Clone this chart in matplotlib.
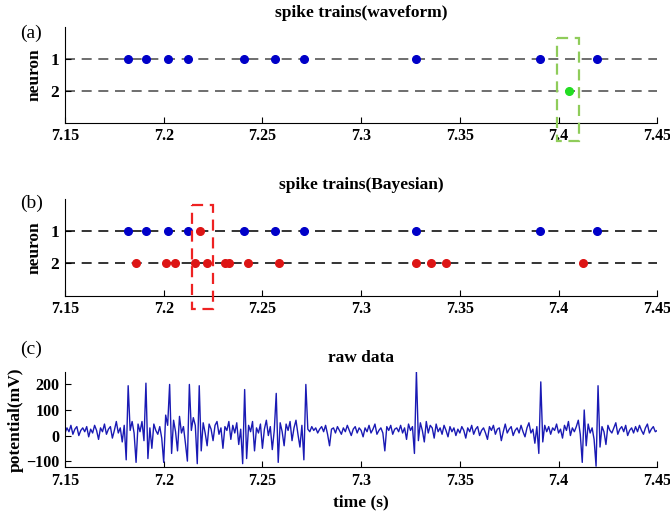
import numpy as np
import matplotlib
matplotlib.use('Agg')
import matplotlib.pyplot as plt
from matplotlib.patches import Rectangle
from matplotlib.ticker import FormatStrFormatter

plt.rcParams['font.family'] = ['Liberation Serif', 'DejaVu Serif']
plt.rcParams['font.weight'] = 'bold'

# spike times (s)
neuron1_times = [7.182, 7.191, 7.202, 7.2125, 7.2405, 7.2566, 7.2713, 7.328, 7.3906, 7.4196]
wave_n2_times = [7.4054]
bayes_n1_red = [7.2184]
bayes_n2_red = [7.1859, 7.2010, 7.2056, 7.2160, 7.2218, 7.2309, 7.2333, 7.2426, 7.2582,
                7.3278, 7.3356, 7.3432, 7.4124]

# highlighted windows
box_a = (7.3994, 7.4106)
box_b = (7.2143, 7.2252)

# raw trace, 1 ms samples from 7.150 s
t_start = 7.150
dt = 0.001
raw_mv = [
    10, 30, 15, 40, 5, 25, 35, 0, 20, 30,
    15, 35, -5, 25, 10, 40, 20, -15, 30, 15,
    45, 5, 25, 35, -10, 20, 55, 10, 30, -25,
    40, -95, 195, 20, 55, 10, -105, 45, 15, 55,
    -20, 205, -90, 30, -50, 45, 20, 5, 35, -10,
    -105, 80, 40, 200, -70, 60, 15, -60, 75, 10,
    35, -30, -100, 200, 20, 70, 40, -110, 195, -60,
    50, 10, -40, 45, 25, -20, 40, 55, 5, 30,
    -50, 35, 20, 55, -15, 40, 10, 50, -35, 25,
    -110, 180, -90, 40, 15, 55, -60, 30, 10, 45,
    -50, 25, 60, 0, 35, -55, 20, 165, -105, 50,
    15, -40, 45, 20, 55, -20, 30, 60, 5, -45,
    40, -95, 200, 25, 15, 35, 20, 30, 10, 25,
    35, 15, 40, 5, -40, 25, 30, 10, 35, 20,
    5, 30, 15, 40, 20, 0, 25, 35, 10, 30,
    20, -5, 30, 15, 40, 10, 25, 45, 5, 20,
    30, 10, -60, 35, 20, 40, 5, 25, 30, 15,
    40, 10, 30, -15, 45, 20, 35, -70, 250, -20,
    50, 20, -25, 55, 10, 40, 30, -10, 45, 15,
    30, 5, 40, 20, -5, 35, 15, 30, 0, 25,
    10, 35, 20, -10, 30, 15, 40, 5, 25, 35,
    0, 20, 30, 10, -15, 35, 20, 40, 5, 25,
    30, -20, 15, 45, 10, 25, 35, 0, 20, 30,
    10, 40, 15, -5, 30, 50, 10, 25, -30, 35,
    -70, 210, -25, 40, 15, 35, 5, 30, 20, 45,
    10, 25, -10, 40, 20, 55, 0, 30, 15, 35,
    60, 5, -105, 100, -40, 45, 10, 30, -15, -120,
    195, -45, 35, 15, -35, 40, 20, 10, 30, 50,
    5, 25, 35, 15, 40, 0, 20, 30, 10, 35,
    15, 40, 20, 5, 30, 45, 10, 25, 35, 15,
    20,
]
raw_t = t_start + dt * np.arange(len(raw_mv))

xticks = [7.15, 7.2, 7.25, 7.3, 7.35, 7.4, 7.45]
blue = '#0000c8'
red = '#dd1515'
green = '#22dd22'

fig = plt.figure(figsize=(6.7, 5.18), dpi=100)
ax_a = fig.add_axes([0.097, 0.763, 0.884, 0.185])
ax_b = fig.add_axes([0.097, 0.429, 0.884, 0.187])
ax_c = fig.add_axes([0.097, 0.0985, 0.884, 0.184])


def style(ax):
    ax.spines['top'].set_visible(False)
    ax.spines['right'].set_visible(False)
    ax.tick_params(direction='in', length=4, labelsize=11.5, pad=4)
    ax.set_xlim(7.15, 7.45)
    ax.set_xticks(xticks)
    ax.xaxis.set_major_formatter(FormatStrFormatter('%g'))
    for lab in ax.get_xticklabels() + ax.get_yticklabels():
        lab.set_fontweight('bold')


for ax, title, lc in [(ax_a, 'spike trains(waveform)', '#555555'),
                      (ax_b, 'spike trains(Bayesian)', '#111111')]:
    style(ax)
    ax.set_ylim(3, 0)
    ax.set_yticks([1, 2])
    ax.tick_params(axis='y', labelsize=12.5)
    ax.set_ylabel('neuron', fontsize=12.5, fontweight='bold', labelpad=6)
    ax.set_title(title, fontsize=12.5, fontweight='bold', pad=7)
    for y in (1, 2):
        ax.axhline(y, color=lc, lw=1.2, ls=(0, (6, 4)), zorder=1)

ms = 5.5
ax_a.plot(neuron1_times, [1] * len(neuron1_times), 'o', color=blue, ms=ms, zorder=3)
ax_a.plot(wave_n2_times, [2] * len(wave_n2_times), 'o', color=green, ms=ms, zorder=3)
ax_a.add_patch(Rectangle((box_a[0], 0.36), box_a[1] - box_a[0], 3.58 - 0.36, fill=False,
                         ec='#8fcc5a', lw=1.6, ls=(0, (5, 3)), clip_on=False, zorder=4))

ax_b.plot(neuron1_times, [1] * len(neuron1_times), 'o', color=blue, ms=ms, zorder=3)
ax_b.plot(bayes_n1_red, [1] * len(bayes_n1_red), 'o', color=red, ms=ms, zorder=3)
ax_b.plot(bayes_n2_red, [2] * len(bayes_n2_red), 'o', color=red, ms=ms, zorder=3)
ax_b.add_patch(Rectangle((box_b[0], 0.18), box_b[1] - box_b[0], 3.42 - 0.18, fill=False,
                         ec='#ee2222', lw=1.6, ls=(0, (5, 3)), clip_on=False, zorder=4))

style(ax_c)
ax_c.plot(raw_t, raw_mv, color='#1a1ab4', lw=1.0)
ax_c.set_ylim(-123, 250)
ax_c.set_yticks([-100, 0, 100, 200])
ax_c.set_title('raw data', fontsize=12.5, fontweight='bold', pad=7)
ax_c.set_ylabel('potential(mV)', fontsize=12.5, fontweight='bold', labelpad=2)
ax_c.set_xlabel('time (s)', fontsize=12.5, fontweight='bold', labelpad=4)

fig.text(0.047, 0.935, '(a)', fontsize=14, fontweight='normal', ha='center', va='center')
fig.text(0.047, 0.608, '(b)', fontsize=14, fontweight='normal', ha='center', va='center')
fig.text(0.047, 0.325, '(c)', fontsize=14, fontweight='normal', ha='center', va='center')

fig.savefig('out.png', dpi=100)
